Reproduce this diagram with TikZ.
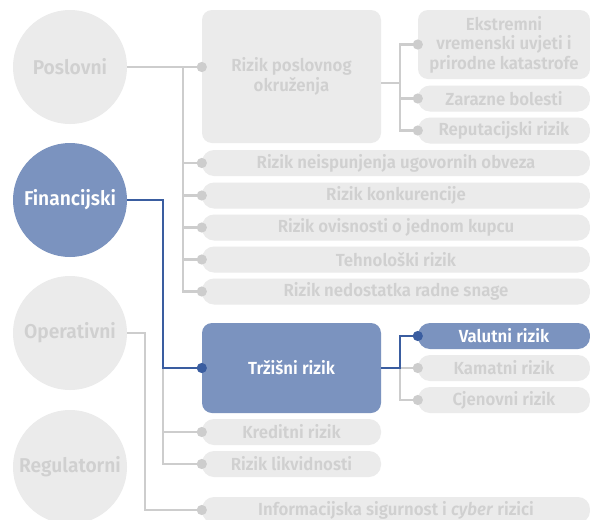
\documentclass[tikz,border=0pt]{standalone}
\usepackage{fontspec}
\setmainfont{Fira Sans}[UprightFont={* SemiBold}, ItalicFont={* SemiBold Italic}, FakeStretch=0.96]
\usepackage{xcolor}
\usepackage{tikz}
\usetikzlibrary{shapes}
\usetikzlibrary{arrows.meta}
\definecolor{rizsiva}{HTML}{EBEBEB}
\definecolor{rizslova}{HTML}{D0D0D0}
\definecolor{rizlinija}{HTML}{CDCDCD}
\definecolor{rizplava}{HTML}{7B93BF}
\definecolor{rizplavalin}{HTML}{3A5DA0}
\tikzset{ krug/.style = {circle, fill=rizsiva, text=rizslova, minimum size=114pt, inner sep=0pt, font=\fontsize{20pt}{21pt}\selectfont} }
\tikzset{ krug_aktivan/.style = {krug, fill=rizplava, text=white} }
\tikzset{ okvir/.style = {rectangle, rounded corners=10pt, fill=rizsiva, text=rizslova, align=center, inner sep=0pt, font=\fontsize{17.5pt}{19.5pt}\selectfont} }
\tikzset{ traka/.style = {okvir, rounded corners=12pt, minimum height=26pt} }
\tikzset{ aktivan/.style = {fill=rizplava, text=white} }
\tikzset{ linija/.style = {draw=rizlinija, line width=2.8pt} }
\tikzset{ veza/.style = {linija, -{Circle[length=10pt]}, shorten >=-5pt} }
\tikzset{ linija_plava/.style = {draw=rizplavalin, line width=2.7pt} }
\tikzset{ veza_plava/.style = {linija_plava, -{Circle[length=10pt]}, shorten >=-5pt} }

\begin{document}
\begin{tikzpicture}[x=1pt, y=-1pt]
        \clip (0,0) rectangle (590,520);
        \fill[white] (0,0) rectangle (590,520);
        % skupine rizika
        \node[krug] (poslovni) at (70, 67) {Poslovni};
        \node[krug_aktivan] (financijski) at (70, 200) {Financijski};
        \node[krug] (operativni) at (70, 333) {Operativni};
        \node[krug] (regulatorni) at (70, 467) {Regulatorni};
        % poslovni rizici
        \node[okvir, minimum width=179pt, minimum height=133pt] (okruzenje) at (291.5, 76.5) {Rizik poslovnog\\okruženja};
        \node[okvir, minimum width=172pt, minimum height=69pt] (ekstremni) at (504, 44.5) {Ekstremni\\vremenski uvjeti i\\prirodne katastrofe};
        \node[traka, minimum width=172pt] (zarazne) at (504, 98.5) {Zarazne bolesti};
        \node[traka, minimum width=172pt] (reputacija) at (504, 130.5) {Reputacijski rizik};
        \node[traka, minimum width=388pt] (neispunjenje) at (396, 163) {Rizik neispunjenja ugovornih obveza};
        \node[traka, minimum width=388pt] (konkurencija) at (396, 195.5) {Rizik konkurencije};
        \node[traka, minimum width=388pt] (kupac) at (396, 227.5) {Rizik ovisnosti o jednom kupcu};
        \node[traka, minimum width=388pt] (tehnologija) at (396, 259.5) {Tehnološki rizik};
        \node[traka, minimum width=388pt] (radnasnaga) at (396, 291.5) {Rizik nedostatka radne snage};
        % financijski rizici
        \node[okvir, aktivan, minimum width=179pt, minimum height=90pt] (trzisni) at (291.5, 368) {Tržišni rizik};
        \node[traka, aktivan, minimum width=172pt] (valutni) at (504, 336) {Valutni rizik};
        \node[traka, minimum width=172pt] (kamatni) at (504, 368) {Kamatni rizik};
        \node[traka, minimum width=172pt] (cjenovni) at (504, 400) {Cjenovni rizik};
        \node[traka, minimum width=179pt] (kreditni) at (291.5, 432) {Kreditni rizik};
        \node[traka, minimum width=179pt] (likvidnost) at (291.5, 464) {Rizik likvidnosti};
        % operativni rizici
        \node[traka, minimum width=388pt] (infosig) at (396, 510) {Informacijska sigurnost i \textit{cyber} rizici};
        % tocke grananja
        \coordinate (racvaP) at (183, 66);
        \coordinate (racvaO) at (400, 83);
        \coordinate (racvaF) at (163, 200);
        \coordinate (racvaT) at (163, 368);
        \coordinate (racvaV) at (400, 368);
        \coordinate (racvaOp) at (145, 333);
        % veze
        \draw[veza] (poslovni.east) -- (poslovni.east -| okruzenje.west);
        \draw[veza] (racvaP) |- (neispunjenje.west);
        \draw[veza] (racvaP) |- (konkurencija.west);
        \draw[veza] (racvaP) |- (kupac.west);
        \draw[veza] (racvaP) |- (tehnologija.west);
        \draw[veza] (racvaP) |- (radnasnaga.west);
        \draw[linija] (okruzenje.east |- racvaO) -- (racvaO);
        \draw[veza] (racvaO) |- (ekstremni.west);
        \draw[veza] (racvaO) |- (zarazne.west);
        \draw[veza] (racvaO) |- (reputacija.west);
        \draw[veza] (racvaT) |- (kreditni.west);
        \draw[veza] (racvaT) |- (likvidnost.west);
        \draw[veza] (racvaV) -- (kamatni.west);
        \draw[veza] (racvaV) |- (cjenovni.west);
        \draw[veza] (operativni.east) -- (racvaOp) |- (infosig.west);
        \draw[veza_plava] (financijski.east) -- (racvaF) |- (trzisni.west);
        \draw[veza_plava] (trzisni.east) -- (racvaV) |- (valutni.west);
\end{tikzpicture}
\end{document}
